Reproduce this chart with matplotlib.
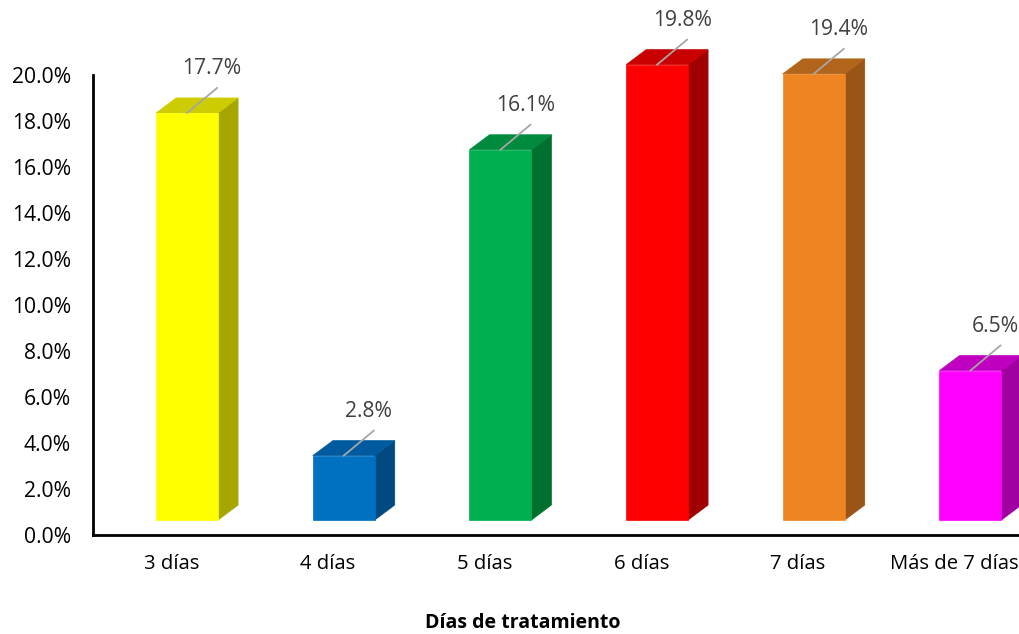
import matplotlib
matplotlib.use("Agg")
import matplotlib.pyplot as plt
import matplotlib.transforms as mtransforms
from matplotlib.patches import Polygon

categories = ["3 días", "4 días", "5 días", "6 días", "7 días", "Más de 7 días"]
percentages = [17.7, 2.8, 16.1, 19.8, 19.4, 6.5]
front_colors = ["#FFFF00", "#0070C0", "#00B050", "#FF0000", "#EE8522", "#FF00FF"]
top_colors = ["#CCCC00", "#005A9E", "#008A3E", "#C80000", "#B2651A", "#C000C0"]
side_colors = ["#A6A600", "#004A80", "#00702F", "#A00000", "#9A5416", "#A000A0"]
y_ticks = [0, 2, 4, 6, 8, 10, 12, 14, 16, 18, 20]
x_title = "Días de tratamiento"

plt.rcParams["font.family"] = ["Open Sans", "DejaVu Sans"]

W, H = 1019, 634
fig = plt.figure(figsize=(W / 100, H / 100), dpi=100)
ax = fig.add_axes([93 / W, (H - 535) / H, 940 / W, (535 - 75) / H])
ax.set_xlim(-0.5, 5.5)
ax.set_ylim(0, 20)

# pseudo-3D column geometry (data units)
bar_left = -0.097
bar_width = 0.395
base = 0.65
depth_x = 0.128
depth_y = 0.652

inv = ax.transData.inverted()
for i, (v, fc, tc, sc) in enumerate(zip(percentages, front_colors, top_colors, side_colors)):
    x0 = i + bar_left
    x1 = x0 + bar_width
    y0 = base
    y1 = base + v
    front = [(x0, y0), (x1, y0), (x1, y1), (x0, y1)]
    top = [(x0, y1), (x1, y1), (x1 + depth_x, y1 + depth_y), (x0 + depth_x, y1 + depth_y)]
    side = [(x1, y0), (x1 + depth_x, y0 + depth_y), (x1 + depth_x, y1 + depth_y), (x1, y1)]
    for pts, col in ((side, sc), (top, tc), (front, fc)):
        ax.add_patch(Polygon(pts, closed=True, facecolor=col, edgecolor=col,
                             linewidth=0.5, clip_on=False, zorder=3))

    cx = x0 + bar_width / 2
    # leader line from the column top to the value label
    line_end = mtransforms.offset_copy(ax.transData, fig, x=30, y=25, units="dots")
    (sx, sy) = (cx, y1)
    (ex, ey) = inv.transform(line_end.transform((cx, y1)))
    ax.plot([sx, ex], [sy, ey], color="#A6A6A6", linewidth=1.3, clip_on=False, zorder=4)
    label_tr = mtransforms.offset_copy(ax.transData, fig, x=25, y=44, units="dots")
    ax.text(cx, y1, f"{v:.1f}%", transform=label_tr, ha="center", va="center",
            fontsize=15.2, color="#404040", clip_on=False, zorder=5)

ax.set_yticks(y_ticks)
ax.set_yticklabels([f"{t:.1f}%" for t in y_ticks], fontsize=15.2, color="#000000")
ax.set_xticks(range(len(categories)))
ax.set_xticklabels(categories, fontsize=14.6, color="#000000")
ax.tick_params(axis="y", length=0, pad=16)
ax.tick_params(axis="x", length=0, pad=14)

for s in ("top", "right"):
    ax.spines[s].set_visible(False)
for s in ("left", "bottom"):
    ax.spines[s].set_linewidth(2)
    ax.spines[s].set_color("#000000")

fig.text(523 / W, 1 - 623 / H, x_title, ha="center", va="center",
         fontsize=14, fontweight="bold", color="#000000")

fig.savefig("out.png", dpi=100)
